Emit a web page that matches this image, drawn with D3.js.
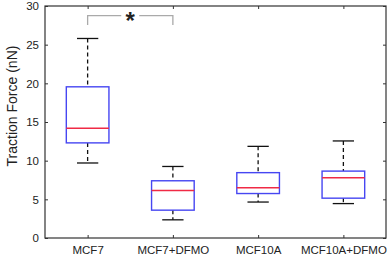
<!DOCTYPE html>
<html>
<head>
<meta charset="utf-8">
<script src="https://cdn.jsdelivr.net/npm/d3@7"></script>
<style>
    body { margin: 0; background: #fff; }
    text { font-family: "Liberation Sans", Arial, sans-serif; fill: #222; }
</style>
</head>
<body>
<div id="vis"></div>
<script>
// Groups and box statistics
var groups = ['MCF7', 'MCF7+DFMO', 'MCF10A', 'MCF10A+DFMO'];
var lowerWhisker = [9.7, 2.35, 4.65, 4.45];
var q1 = [12.3, 3.6, 5.75, 5.15];
var medians = [14.2, 6.15, 6.5, 7.8];
var q3 = [19.55, 7.4, 8.45, 8.65];
var upperWhisker = [25.8, 9.25, 11.85, 12.55];
var yTicks = [0, 5, 10, 15, 20, 25, 30];
var sigPair = ['MCF7', 'MCF7+DFMO'];

var width = 392;
var height = 258;
var margin = { left: 45, right: 6, top: 6, bottom: 20 };
var drawWidth = width - margin.left - margin.right;
var drawHeight = height - margin.top - margin.bottom;

var svg = d3.select('#vis')
    .append('svg')
    .attr('width', width)
    .attr('height', height);

var g = svg.append('g')
    .attr('transform', 'translate(' + margin.left + ',' + margin.top + ')');

// Scales: x uses group position 1..4 within [0.5, 4.5]
var xScale = d3.scaleLinear().domain([0.5, groups.length + 0.5]).range([0, drawWidth]);
var yScale = d3.scaleLinear().domain([0, 30]).range([drawHeight, 0]);
var xPos = function(name) { return xScale(groups.indexOf(name) + 1); };

var data = groups.map(function(d, i) {
    return { name: d, lo: lowerWhisker[i], q1: q1[i], med: medians[i], q3: q3[i], hi: upperWhisker[i] };
});

// Axes, ticks pointing inward (matlab style)
var axisColor = '#333';
var xAxis = d3.axisBottom(xScale)
    .tickValues(d3.range(1, groups.length + 1))
    .tickFormat(function(d) { return groups[d - 1]; })
    .tickSizeInner(-3).tickSizeOuter(0).tickPadding(8);
var yAxis = d3.axisLeft(yScale)
    .tickValues(yTicks)
    .tickSizeInner(-3).tickSizeOuter(0).tickPadding(6);

g.append('g')
    .attr('transform', 'translate(0,' + drawHeight + ')')
    .call(xAxis);
g.append('g').call(yAxis);

// mirrored ticks on top and right
g.append('g').call(d3.axisTop(xScale).tickValues(d3.range(1, groups.length + 1))
    .tickFormat('').tickSizeInner(-3).tickSizeOuter(0));
g.append('g').attr('transform', 'translate(' + drawWidth + ',0)')
    .call(d3.axisRight(yScale).tickValues(yTicks).tickFormat('').tickSizeInner(-3).tickSizeOuter(0));

g.selectAll('.domain').remove();
g.selectAll('.tick line').attr('stroke', axisColor);
g.selectAll('.tick text').style('font-size', '11.5px').attr('fill', '#222');

// frame
g.append('rect')
    .attr('width', drawWidth)
    .attr('height', drawHeight)
    .attr('fill', 'none')
    .attr('stroke', axisColor)
    .attr('stroke-width', 1.2);

// y axis title
svg.append('text')
    .attr('transform', 'translate(17,' + (margin.top + drawHeight / 2 - 16) + ') rotate(-90)')
    .attr('text-anchor', 'middle')
    .style('font-size', '14px')
    .text('Traction Force (nN)');

var boxW = xScale(1.25) - xScale(1);
var capW = boxW / 2;

var boxes = g.selectAll('.box').data(data).enter().append('g')
    .attr('class', 'box')
    .attr('transform', function(d) { return 'translate(' + xPos(d.name) + ',0)'; });

// whiskers (dashed)
boxes.append('line')
    .attr('y1', function(d) { return yScale(d.hi); })
    .attr('y2', function(d) { return yScale(d.q3); })
    .attr('stroke', '#111').attr('stroke-width', 1.3).attr('stroke-dasharray', '4,3');
boxes.append('line')
    .attr('y1', function(d) { return yScale(d.q1); })
    .attr('y2', function(d) { return yScale(d.lo); })
    .attr('stroke', '#111').attr('stroke-width', 1.3).attr('stroke-dasharray', '4,3');

// caps
boxes.append('line')
    .attr('x1', -capW).attr('x2', capW)
    .attr('y1', function(d) { return yScale(d.hi); })
    .attr('y2', function(d) { return yScale(d.hi); })
    .attr('stroke', '#111').attr('stroke-width', 1.3);
boxes.append('line')
    .attr('x1', -capW).attr('x2', capW)
    .attr('y1', function(d) { return yScale(d.lo); })
    .attr('y2', function(d) { return yScale(d.lo); })
    .attr('stroke', '#111').attr('stroke-width', 1.3);

// box
boxes.append('rect')
    .attr('x', -boxW)
    .attr('width', 2 * boxW)
    .attr('y', function(d) { return yScale(d.q3); })
    .attr('height', function(d) { return yScale(d.q1) - yScale(d.q3); })
    .attr('fill', 'none')
    .attr('stroke', '#4646f2')
    .attr('stroke-width', 1.4);

// median
boxes.append('line')
    .attr('x1', -boxW).attr('x2', boxW)
    .attr('y1', function(d) { return yScale(d.med); })
    .attr('y2', function(d) { return yScale(d.med); })
    .attr('stroke', '#f02a45')
    .attr('stroke-width', 1.4);

// significance bracket
var bx1 = xPos(sigPair[0]);
var bx2 = xPos(sigPair[1]);
var bTop = yScale(28.75);
var bFoot = yScale(27.55);
var bMid = (bx1 + bx2) / 2;
var gap = 9;
var bracketColor = '#aaa';
g.append('path')
    .attr('d', 'M' + bx1 + ',' + bFoot + 'V' + bTop + 'H' + (bMid - gap))
    .attr('fill', 'none').attr('stroke', bracketColor).attr('stroke-width', 1.3);
g.append('path')
    .attr('d', 'M' + (bMid + gap) + ',' + bTop + 'H' + bx2 + 'V' + bFoot)
    .attr('fill', 'none').attr('stroke', bracketColor).attr('stroke-width', 1.3);
g.append('text')
    .attr('x', bMid)
    .attr('y', bTop + 13)
    .attr('text-anchor', 'middle')
    .style('font-size', '24px')
    .style('font-weight', 'bold')
    .text('*');
</script>
</body>
</html>
